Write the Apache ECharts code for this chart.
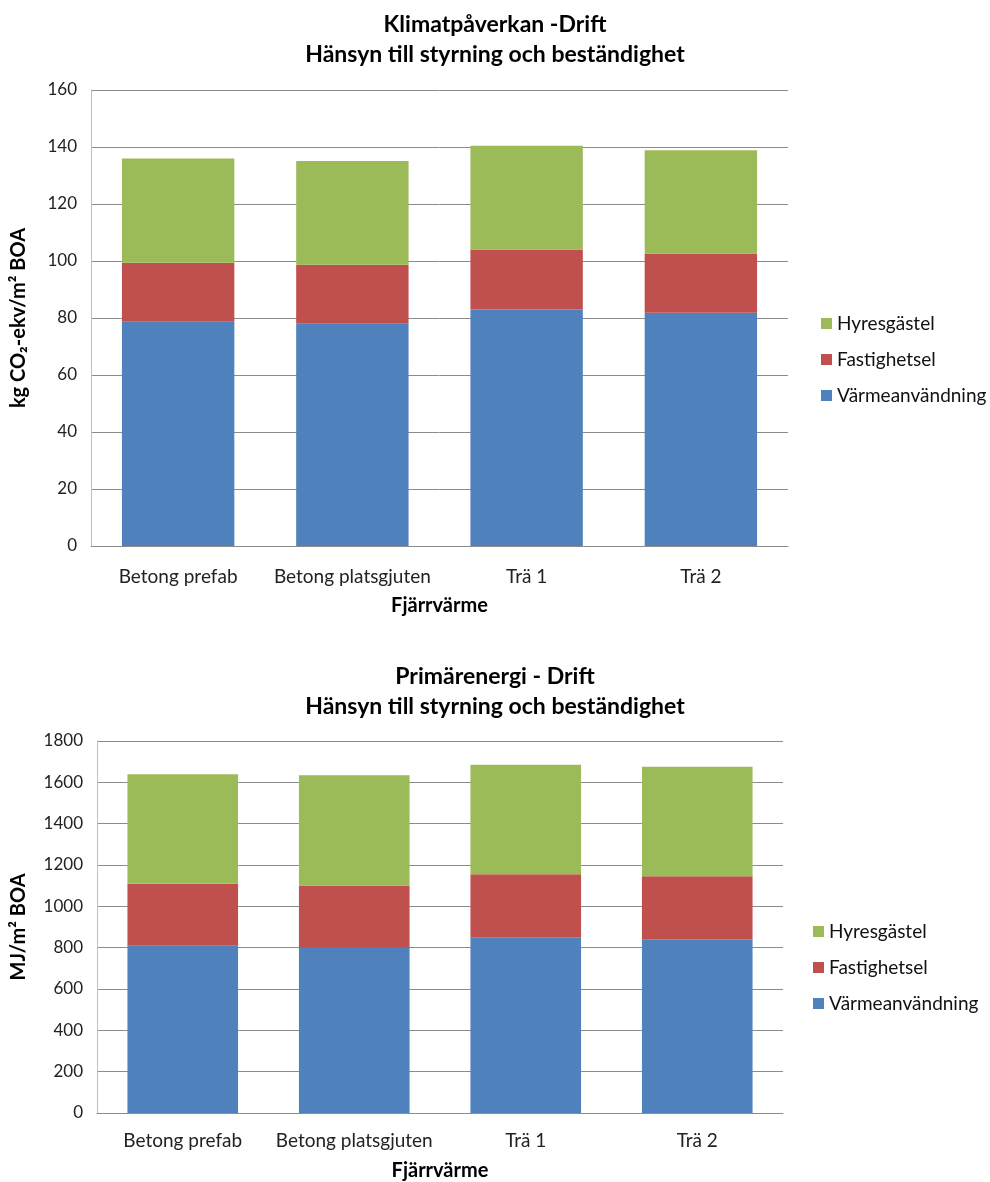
<!DOCTYPE html>
<html>
<head>
<meta charset="utf-8">
<script src="https://cdn.jsdelivr.net/npm/echarts@6/dist/echarts.min.js"></script>
<style>
  html, body { margin: 0; padding: 0; background: #fff; }
  #chart { width: 990px; height: 1182px; }
</style>
</head>
<body>
<div id="chart"></div>
<script>
// Categories (building variants, district heating)
const categories = ['Betong prefab', 'Betong platsgjuten', 'Trä 1', 'Trä 2'];

// Climate impact, kg CO2-eq/m² BOA
const klimatVarme = [78.7, 78.0, 83.0, 81.8];
const klimatFastighetsel = [20.7, 20.7, 21.0, 20.8];
const klimatHyresgastel = [36.6, 36.4, 36.4, 36.3];
const klimatTicks = { min: 0, max: 160, interval: 20 };

// Primary energy, MJ/m² BOA
const energiVarme = [809, 799, 851, 841];
const energiFastighetsel = [300, 302, 304, 305];
const energiHyresgastel = [530, 533, 530, 530];
const energiTicks = { min: 0, max: 1800, interval: 200 };

const FONT = 'Lato, "Open Sans", sans-serif';
const COLORS = { varme: '#4F81BD', fastighet: '#C0504D', hyres: '#9BBB59' };

const chart = echarts.init(document.getElementById('chart'), null, { renderer: 'canvas' });

function yAxis(gridIndex, ticks, name, nameGap) {
  return {
    gridIndex, type: 'value', min: ticks.min, max: ticks.max, interval: ticks.interval,
    name, nameLocation: 'middle', nameGap,
    nameTextStyle: { fontFamily: FONT, fontSize: 20, fontWeight: 'bold', color: '#000' },
    axisLine: { show: true, lineStyle: { color: '#BFBFBF', width: 1 } },
    axisTick: { show: false },
    axisLabel: { fontFamily: FONT, fontSize: 17, color: '#222', margin: 14, formatter: v => String(v) },
    splitLine: { show: true, lineStyle: { color: '#8C8C8C', width: 1 } }
  };
}

function xAxis(gridIndex, margin, nameGap) {
  return {
    gridIndex, type: 'category', data: categories,
    name: 'Fjärrvärme', nameLocation: 'middle', nameGap,
    nameTextStyle: { fontFamily: FONT, fontSize: 20, fontWeight: 'bold', color: '#000' },
    axisLine: { show: true, lineStyle: { color: '#8C8C8C', width: 1 } },
    axisTick: { show: false },
    axisLabel: { fontFamily: FONT, fontSize: 19, color: '#222', margin, interval: 0 }
  };
}

function bar(name, data, color, idx) {
  return {
    name, type: 'bar', stack: 'total' + idx, data,
    xAxisIndex: idx, yAxisIndex: idx,
    barWidth: '64.5%',
    itemStyle: { color },
    emphasis: { disabled: true }
  };
}

function legend(left, top) {
  return {
    orient: 'vertical', left, top,
    data: ['Hyresgästel', 'Fastighetsel', 'Värmeanvändning'],
    icon: 'rect', itemWidth: 11, itemHeight: 11, itemGap: 17,
    textStyle: { fontFamily: FONT, fontSize: 19, color: '#111' }
  };
}

const titleStyle = { fontFamily: FONT, fontSize: 23, fontWeight: 'bold', color: '#000', lineHeight: 30, align: 'center' };

chart.setOption({
  animation: false,
  title: [
    { text: 'Klimatpåverkan -Drift\nHänsyn till styrning och beständighet', left: 'center', top: 5, textStyle: titleStyle },
    { text: 'Primärenergi - Drift\nHänsyn till styrning och beständighet', left: 'center', top: 657, textStyle: titleStyle }
  ],
  legend: [legend(816, 309), legend(808, 917)],
  grid: [
    { left: 91, top: 90, width: 697, height: 456 },
    { left: 97, top: 741, width: 686, height: 376 }
  ],
  xAxis: [xAxis(0, 21, 50), xAxis(1, 18, 48)],
  yAxis: [
    yAxis(0, klimatTicks, 'kg CO₂-ekv/m² BOA', 62),
    yAxis(1, energiTicks, 'MJ/m² BOA', 68)
  ],
  series: [
    bar('Värmeanvändning', klimatVarme, COLORS.varme, 0),
    bar('Fastighetsel', klimatFastighetsel, COLORS.fastighet, 0),
    bar('Hyresgästel', klimatHyresgastel, COLORS.hyres, 0),
    bar('Värmeanvändning', energiVarme, COLORS.varme, 1),
    bar('Fastighetsel', energiFastighetsel, COLORS.fastighet, 1),
    bar('Hyresgästel', energiHyresgastel, COLORS.hyres, 1)
  ]
});
</script>
</body>
</html>
